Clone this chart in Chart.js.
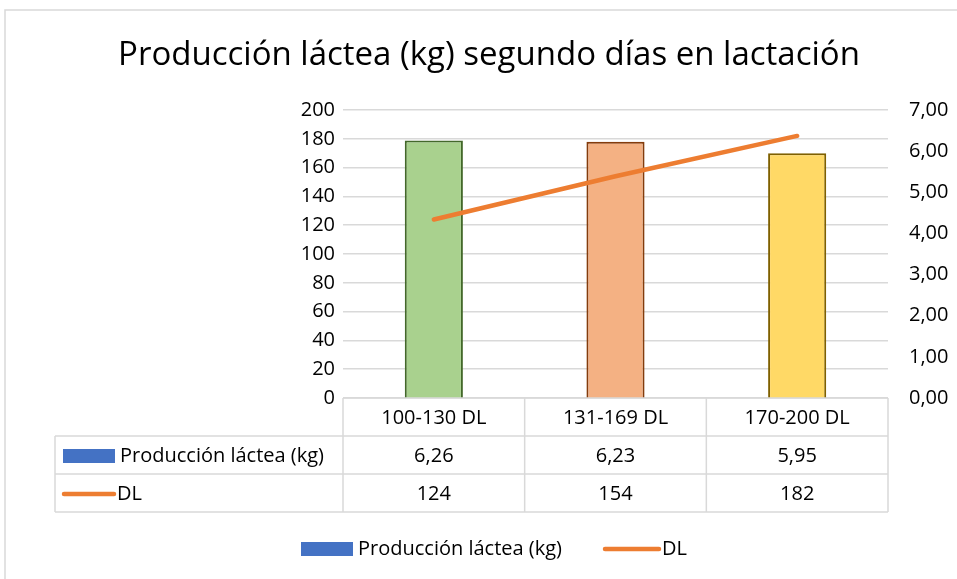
<!DOCTYPE html>
<html>
<head>
<meta charset="utf-8">
<script src="https://cdn.jsdelivr.net/npm/chart.js@4.4.1/dist/chart.umd.min.js"></script>
<style>
  html, body { margin: 0; padding: 0; background: #fff; }
  #wrap { width: 957px; height: 579px; position: relative; }
</style>
</head>
<body>
<div id="wrap"><canvas id="chart"></canvas></div>
<script>
// chart data
const categories = ["100-130 DL", "131-169 DL", "170-200 DL"];
const produccion = [6.26, 6.23, 5.95];
const dl = [124, 154, 182];
const leftTicks = [0, 200, 20];   // min, max, step
const rightTicks = [0, 7, 1];

const FONT = "'Open Sans', 'Noto Sans', sans-serif";
const fmtComma = (v) => v.toFixed(2).replace(".", ",");

// Title, data table and legend, drawn after the chart
const extrasPlugin = {
    id: "extras",
    afterDraw(chart) {
        const ctx = chart.ctx;
        const area = chart.chartArea;
        const xs = chart.scales.x;
        ctx.save();

        // outer frame
        ctx.strokeStyle = "#D9D9D9";
        ctx.lineWidth = 1.5;
        ctx.strokeRect(5, 10, 1000, 600);

        // title
        ctx.fillStyle = "#000";
        ctx.font = "33px " + FONT;
        ctx.textAlign = "center";
        ctx.textBaseline = "middle";
        ctx.fillText("Producción láctea (kg) segundo días en lactación", 489, 56);

        // data table
        const centers = categories.map((c, i) => xs.getPixelForValue(i));
        const edges = [area.left];
        for (let i = 0; i < centers.length - 1; i++) edges.push((centers[i] + centers[i + 1]) / 2);
        edges.push(area.right);

        const rowTops = [area.bottom, 436, 474, 512];
        const tableLeft = 55;
        ctx.strokeStyle = "#D9D9D9";
        ctx.lineWidth = 1.5;
        ctx.beginPath();
        edges.forEach((x) => { ctx.moveTo(x, rowTops[0]); ctx.lineTo(x, rowTops[3]); });
        ctx.moveTo(area.left, rowTops[0]); ctx.lineTo(area.right, rowTops[0]);
        for (let r = 1; r < 4; r++) { ctx.moveTo(tableLeft, rowTops[r]); ctx.lineTo(area.right, rowTops[r]); }
        ctx.moveTo(tableLeft, rowTops[1]); ctx.lineTo(tableLeft, rowTops[3]);
        ctx.stroke();

        ctx.font = "20px " + FONT;
        ctx.fillStyle = "#000";
        ctx.textAlign = "center";
        const rowMid = (r) => (rowTops[r] + rowTops[r + 1]) / 2 + 1;
        categories.forEach((c, i) => {
            ctx.fillText(c, centers[i], rowMid(0));
            ctx.fillText(fmtComma(produccion[i]), centers[i], rowMid(1));
            ctx.fillText(String(dl[i]), centers[i], rowMid(2));
        });

        const barDs = chart.data.datasets[1];
        const lineDs = chart.data.datasets[0];
        // table legend keys
        ctx.textAlign = "left";
        ctx.fillStyle = "#4472C4";
        ctx.fillRect(63, rowMid(1) - 7, 52, 14);
        ctx.fillStyle = "#000";
        ctx.fillText(barDs.label, 120, rowMid(1));
        ctx.strokeStyle = lineDs.borderColor;
        ctx.lineWidth = 4.5;
        ctx.lineCap = "round";
        ctx.beginPath(); ctx.moveTo(64, rowMid(2)); ctx.lineTo(114, rowMid(2)); ctx.stroke();
        ctx.fillText(lineDs.label, 117, rowMid(2));

        // bottom legend
        const ly = 549;
        ctx.fillStyle = "#4472C4";
        ctx.fillRect(301, ly - 7, 52, 14);
        ctx.fillStyle = "#000";
        ctx.fillText(barDs.label, 358, ly);
        ctx.beginPath(); ctx.moveTo(605, ly); ctx.lineTo(659, ly); ctx.stroke();
        ctx.fillText(lineDs.label, 662, ly);

        ctx.restore();
    }
};

new Chart(document.getElementById("chart"), {
    data: {
        labels: categories,
        datasets: [
            {
                type: "line",
                label: "DL",
                data: dl,
                yAxisID: "y",
                borderColor: "#ED7D31",
                borderWidth: 4.5,
                borderCapStyle: "round",
                pointRadius: 0,
                tension: 0,
                order: 1
            },
            {
                type: "bar",
                label: "Producción láctea (kg)",
                data: produccion,
                yAxisID: "y1",
                backgroundColor: ["#A9D18E", "#F4B183", "#FFD966"],
                borderColor: ["#43682A", "#843C0C", "#7F6000"],
                borderWidth: 2,
                borderSkipped: "bottom",
                barPercentage: 0.32,
                categoryPercentage: 1,
                order: 2
            }
        ]
    },
    options: {
        responsive: true,
        maintainAspectRatio: false,
        animation: false,
        layout: { padding: { top: 110, bottom: 181, left: 0, right: 0 } },
        plugins: {
            legend: { display: false },
            title: { display: false },
            tooltip: { enabled: false }
        },
        scales: {
            x: { display: false },
            y: {
                position: "left",
                min: leftTicks[0],
                max: leftTicks[1],
                ticks: { stepSize: leftTicks[2], padding: 8, color: "#000", font: { family: FONT, size: 20 } },
                grid: { color: "#D9D9D9", lineWidth: 1.5, drawTicks: false },
                border: { display: false },
                afterFit(scale) { scale.width = 343; }
            },
            y1: {
                position: "right",
                min: rightTicks[0],
                max: rightTicks[1],
                ticks: { stepSize: rightTicks[2], padding: 21, color: "#000", font: { family: FONT, size: 20 },
                    callback: (v) => fmtComma(v) },
                grid: { display: false, drawTicks: false },
                border: { display: false },
                afterFit(scale) { scale.width = 69; }
            }
        }
    },
    plugins: [extrasPlugin]
});
</script>
</body>
</html>
